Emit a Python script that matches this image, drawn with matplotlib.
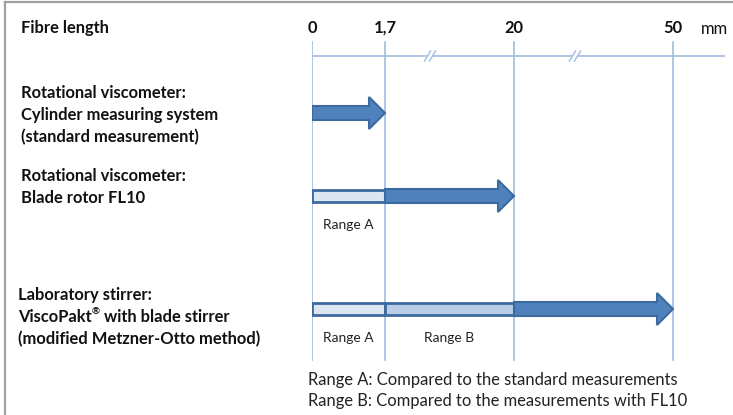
import matplotlib.pyplot as plt
import numpy as np
from matplotlib.patches import Rectangle

# fibre length axis (broken scale)
ticks = [0, 1.7, 20, 50]
tick_labels = ['0', '1,7', '20', '50']
tick_px = [0, 73, 202, 361]   # display offset of each tick along the axis

# each method: name lines, light segments (start, end, colour), arrow start, arrow end
methods = [
    ["Rotational viscometer:", "Cylinder measuring system", "(standard measurement)"],
    ["Rotational viscometer:", "Blade rotor FL10"],
    ["Laboratory stirrer:", "ViscoPakt\u00ae with blade stirrer", "(modified Metzner-Otto method)"],
]
segments = [
    [],
    [(0, 1.7, '#dce6f2')],
    [(0, 1.7, '#dce6f2'), (1.7, 20, '#b9cde5')],
]
arrow_from = [0, 1.7, 20]
arrow_to = [1.7, 20, 50]
range_labels = [[], [(0, 1.7, 'Range A')], [(0, 1.7, 'Range A'), (1.7, 20, 'Range B')]]
notes = ["Range A: Compared to the standard measurements",
         "Range B: Compared to the measurements with FL10"]

# piecewise linear scale, extended past both ends
xp = np.array([-100] + ticks + [200])
fp = np.array([-100 * 73 / 1.7] + tick_px + [361 + 150 * 159 / 30])

def fwd(v):
    return np.interp(v, xp, fp)

def inv(p):
    return np.interp(p, fp, xp)

FONT = 'Lato'
FS = 11.9
BLUE = '#4f81bd'
EDGE = '#3d6a9e'
GRID = '#a7c2e3'

fig = plt.figure(figsize=(7.33, 4.15), dpi=100)
ax = fig.add_axes([312 / 733, 0, 413 / 733, 1])
ax.set_xscale('function', functions=(fwd, inv))
ax.set_xlim(0, inv(413))
ax.set_ylim(415, 0)
ax.axis('off')
renderer = fig.canvas.get_renderer()

# frame lines of the original picture
fig.add_artist(plt.Line2D([5 / 733, 1], [1 - 2.5 / 415, 1 - 2.5 / 415], color='#a0a0a0', lw=1.6))
fig.add_artist(plt.Line2D([5 / 733, 5 / 733], [0, 1 - 2.5 / 415], color='#a0a0a0', lw=1.6))

# axis line with breaks
ax.plot([0, inv(413)], [56, 56], color=GRID, lw=1.3, zorder=1)
for b in [inv(118), inv(263)]:
    c = fwd(b)
    for dx in [-2.5, 2.5]:
        ax.plot([inv(c + dx - 3), inv(c + dx + 3)], [61, 51], color=GRID, lw=1.1, zorder=3)
    ax.add_patch(Rectangle((inv(c - 2), 54.5), inv(c + 2) - inv(c - 2), 3,
                           facecolor='white', edgecolor='none', zorder=2))

for t, lab in zip(ticks, tick_labels):
    ax.plot([t, t], [42, 360], color=GRID, lw=1.3, zorder=1)
    ax.text(t, 28, lab, ha='center', va='center', fontsize=FS, fontweight='bold',
            family=FONT, color='#111111')
ax.text(inv(403), 29, 'mm', ha='center', va='center', fontsize=FS, family=FONT, color='#111111')

fig.text(21 / 733, 1 - 28 / 415, 'Fibre length', ha='left', va='center', fontsize=FS,
         fontweight='bold', family=FONT, color='#111111')

row_y = [113, 196, 309]
text_top = [93, 176, 295]
text_x = [21, 21, 18]
body_h = 14
head_h = 32
head_len = 16


def label_line(x, y, line):
    # small raised registered sign as in the original
    if '\u00ae' not in line:
        fig.text(x / 733, 1 - y / 415, line, ha='left', va='center', fontsize=FS,
                 fontweight='bold', family=FONT, color='#111111')
        return
    head, tail = line.split('\u00ae')
    t = fig.text(x / 733, 1 - y / 415, head, ha='left', va='center', fontsize=FS,
                 fontweight='bold', family=FONT, color='#111111')
    x1 = t.get_window_extent(renderer).x1
    r = fig.text(x1 / 733 + 0.5 / 733, 1 - (y - 5) / 415, '\u00ae', ha='left', va='center',
                 fontsize=7, fontweight='bold', family=FONT, color='#111111')
    x2 = r.get_window_extent(renderer).x1
    fig.text(x2 / 733, 1 - y / 415, tail, ha='left', va='center', fontsize=FS,
             fontweight='bold', family=FONT, color='#111111')


for i, lines in enumerate(methods):
    for j, line in enumerate(lines):
        label_line(text_x[i], text_top[i] + 22 * j, line)
    y = row_y[i]
    for s, e, col in segments[i]:
        ax.add_patch(Rectangle((s, y - body_h / 2 + 1), e - s, body_h - 2, facecolor=col,
                               edgecolor=EDGE, lw=2, zorder=4))
    x0 = fwd(arrow_from[i])
    x1 = fwd(arrow_to[i])
    pts = [(x0, y - body_h / 2), (x1 - head_len, y - body_h / 2), (x1 - head_len, y - head_h / 2),
           (x1, y), (x1 - head_len, y + head_h / 2), (x1 - head_len, y + body_h / 2),
           (x0, y + body_h / 2)]
    ax.add_patch(plt.Polygon([(inv(px), py) for px, py in pts], closed=True, facecolor=BLUE,
                             edgecolor=EDGE, lw=1.5, zorder=5))
    for s, e, lab in range_labels[i]:
        ax.text(inv((fwd(s) + fwd(e)) / 2), y + 29, lab, ha='center', va='center', fontsize=10,
                family=FONT, color='#222222')

for k, note in enumerate(notes):
    fig.text(308 / 733, 1 - (380 + 21 * k) / 415, note, ha='left', va='center', fontsize=11.9,
             family=FONT, color='#222222')

fig.savefig('out.png', dpi=100, facecolor='white')
